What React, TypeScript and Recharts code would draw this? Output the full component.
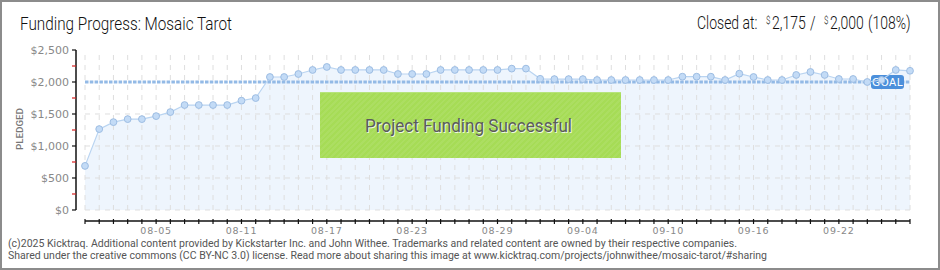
import { ComposedChart, Area, Line, XAxis, YAxis, ReferenceLine } from "recharts";

// one entry per day, 07-31 .. 09-27
const DATES = [
  "07-31",
  "08-01", "08-02", "08-03", "08-04", "08-05", "08-06", "08-07", "08-08", "08-09", "08-10",
  "08-11", "08-12", "08-13", "08-14", "08-15", "08-16", "08-17", "08-18", "08-19", "08-20",
  "08-21", "08-22", "08-23", "08-24", "08-25", "08-26", "08-27", "08-28", "08-29", "08-30", "08-31",
  "09-01", "09-02", "09-03", "09-04", "09-05", "09-06", "09-07", "09-08", "09-09", "09-10",
  "09-11", "09-12", "09-13", "09-14", "09-15", "09-16", "09-17", "09-18", "09-19", "09-20",
  "09-21", "09-22", "09-23", "09-24", "09-25", "09-26", "09-27",
];

const PLEDGED = [
  689, 1264, 1373, 1420, 1420, 1467, 1530, 1640, 1640, 1640,
  1640, 1708, 1749, 2078, 2078, 2125, 2188, 2235, 2188, 2188,
  2188, 2188, 2125, 2125, 2125, 2188, 2188, 2188, 2188, 2188,
  2209, 2209, 2050, 2045, 2045, 2045, 2031, 2031, 2031, 2031,
  2031, 2031, 2083, 2083, 2083, 2031, 2130, 2078, 2031, 2031,
  2110, 2157, 2110, 2047, 2047, 2000, 2031, 2188, 2175,
];

const GOAL = 2000;
const Y_TICKS = [0, 250, 500, 750, 1000, 1250, 1500, 1750, 2000, 2250, 2500];
const GRID_Y = [0, 500, 1000, 1500];
const LABEL_DATES = ["08-05", "08-11", "08-17", "08-23", "08-29", "09-04", "09-10", "09-16", "09-22"];

const data = DATES.map((date, i) => ({ i, date, v: PLEDGED[i] }));
const last = DATES.length - 1;
const X_DOMAIN: [number, number] = [-0.633, last];
const Y_DOMAIN: [number, number] = [-172, 2500];

const fmt = (v: number) => "$" + v.toLocaleString("en-US");

function YTick({ x, y, payload }: any) {
  const major = payload.value % 500 === 0;
  return (
    <g>
      <line x1={x - 4} x2={x} y1={y} y2={y} stroke={major ? "#111" : "#d62020"} strokeWidth={1.2} />
      {major && (
        <text x={x - 7} y={y + 4} textAnchor="end" fontSize={11} fill="#888">
          {fmt(payload.value)}
        </text>
      )}
    </g>
  );
}

function XTick({ x, y, payload }: any) {
  const label = DATES[payload.value];
  return (
    <g>
      <line x1={x} x2={x} y1={y - 2} y2={y + 3} stroke="#111" strokeWidth={1.2} />
      {LABEL_DATES.includes(label) && (
        <text x={x} y={y + 13} textAnchor="middle" fontSize={9.5} fill="#888" letterSpacing={0.8}>
          {label}
        </text>
      )}
    </g>
  );
}

function GoalLabel({ viewBox }: any) {
  if (!viewBox) return null;
  const left = viewBox.x + viewBox.width - 39;
  return (
    <g>
      <rect x={left} y={viewBox.y - 7} width={33} height={14} rx={3} fill="#4b8fdb" />
      <text x={left + 16.5} y={viewBox.y + 4} textAnchor="middle" fontSize={10.5} fill="#fff" letterSpacing={0.5}>
        GOAL
      </text>
    </g>
  );
}

// header on the right is drawn horizontally squeezed, like the narrow original font
const SQ = 0.8;

export default function App() {
  const font = "Roboto, 'DejaVu Sans', sans-serif";
  return (
    <div
      style={{
        position: "absolute",
        left: 0,
        top: 0,
        width: 940,
        height: 270,
        background: "#fff",
        fontFamily: font,
        overflow: "hidden",
      }}
    >
      <ComposedChart
        width={940}
        height={270}
        data={data}
        margin={{ top: 50, right: 30, bottom: 29, left: 16 }}
        style={{ fontFamily: "'DejaVu Sans', sans-serif" }}
      >
        <XAxis
          dataKey="i"
          type="number"
          domain={X_DOMAIN}
          ticks={data.map((d) => d.i)}
          interval={0}
          height={20}
          axisLine={false}
          tickLine={false}
          tickSize={0}
          tickMargin={0}
          tick={<XTick />}
        />
        <YAxis
          type="number"
          domain={Y_DOMAIN}
          ticks={Y_TICKS}
          interval={0}
          width={60}
          axisLine={false}
          tickLine={false}
          tickSize={0}
          tickMargin={0}
          tick={<YTick />}
        />
        {data.map((d) => (
          <ReferenceLine
            key={"vx" + d.i}
            segment={[{ x: d.i, y: 0 }, { x: d.i, y: 2500 }]}
            stroke="#dedede"
            strokeDasharray="5 5"
            ifOverflow="visible"
          />
        ))}
        {GRID_Y.map((v) => (
          <ReferenceLine
            key={"hy" + v}
            segment={[{ x: 0, y: v }, { x: last, y: v }]}
            stroke="#dedede"
            strokeDasharray="5 5"
            ifOverflow="visible"
          />
        ))}
        <Area
          dataKey="v"
          baseValue={0}
          type="linear"
          stroke="none"
          fill="#eef5fd"
          fillOpacity={1}
          dot={false}
          activeDot={false}
          isAnimationActive={false}
        />
        <ReferenceLine
          segment={[{ x: 0, y: GOAL }, { x: last, y: GOAL }]}
          stroke="#93bae6"
          strokeWidth={3}
          strokeDasharray="3.5 1.3"
          ifOverflow="visible"
          label={<GoalLabel />}
        />
        <Line
          dataKey="v"
          type="linear"
          stroke="#b9d4f1"
          strokeWidth={1.2}
          dot={{ r: 3.4, fill: "#c3dbf6", stroke: "#9dbde3", strokeWidth: 1 }}
          activeDot={false}
          isAnimationActive={false}
        />
        <ReferenceLine
          segment={[{ x: X_DOMAIN[0], y: 0 }, { x: X_DOMAIN[0], y: 2500 }]}
          stroke="#111"
          strokeWidth={1.5}
          ifOverflow="visible"
        />
        <ReferenceLine
          segment={[{ x: 0, y: Y_DOMAIN[0] }, { x: last, y: Y_DOMAIN[0] }]}
          stroke="#111"
          strokeWidth={1.5}
          ifOverflow="visible"
        />
      </ComposedChart>

      <div
        style={{
          position: "absolute",
          left: 320,
          top: 92,
          width: 301,
          height: 66,
          background:
            "repeating-linear-gradient(135deg, rgba(255,255,255,0.07) 0 2px, rgba(0,0,0,0) 2px 4px), #a6dc56",
          borderTop: "1px solid #b6e47c",
          boxSizing: "border-box",
        }}
      />

      <svg width={940} height={270} style={{ position: "absolute", left: 0, top: 0, pointerEvents: "none" }}>
        <text x={20} y={29.5} fontSize={17.5} fontWeight={300} fill="#111" textLength={212} lengthAdjust="spacingAndGlyphs">
          Funding Progress: Mosaic Tarot
        </text>

        <g transform={`scale(${SQ},1)`}>
          <text fontSize={17.5} fontWeight={300} fill="#111">
            <tspan x={697 / SQ} y={29.5}>Closed at:</tspan>
            <tspan x={766 / SQ} y={24} fontSize={10}>$</tspan>
            <tspan x={772 / SQ} y={29.5}>2,175</tspan>
            <tspan x={810 / SQ} y={29.5}>/</tspan>
            <tspan x={824 / SQ} y={24} fontSize={10}>$</tspan>
            <tspan x={830 / SQ} y={29.5}>2,000</tspan>
            <tspan x={868 / SQ} y={29.5}>(108%)</tspan>
          </text>
        </g>

        <text
          transform="translate(23,129) rotate(-90)"
          textAnchor="middle"
          fontSize={9}
          fill="#777"
          fontWeight={500}
          textLength={42}
          lengthAdjust="spacingAndGlyphs"
        >
          PLEDGED
        </text>

        <text x={366} y={133} fontSize={19} fill="#fff" textLength={207} lengthAdjust="spacingAndGlyphs" opacity={0.8}>
          Project Funding Successful
        </text>
        <text x={365} y={132} fontSize={19} fill="#5b5b5b" textLength={207} lengthAdjust="spacingAndGlyphs">
          Project Funding Successful
        </text>

        <text x={8} y={247} fontSize={10.5} fill="#555" textLength={729} lengthAdjust="spacingAndGlyphs">
          (c)2025 Kicktraq. Additional content provided by Kickstarter Inc. and John Withee. Trademarks and related content are owned by their respective companies.
        </text>
        <text x={8} y={259} fontSize={10.5} fill="#555" textLength={759} lengthAdjust="spacingAndGlyphs">
          Shared under the creative commons (CC BY-NC 3.0) license. Read more about sharing this image at www.kicktraq.com/projects/johnwithee/mosaic-tarot/#sharing
        </text>
      </svg>

      <div
        style={{
          position: "absolute",
          left: 0,
          top: 0,
          width: 940,
          height: 270,
          border: "2px solid #8c8c8c",
          boxSizing: "border-box",
          pointerEvents: "none",
        }}
      />
    </div>
  );
}
